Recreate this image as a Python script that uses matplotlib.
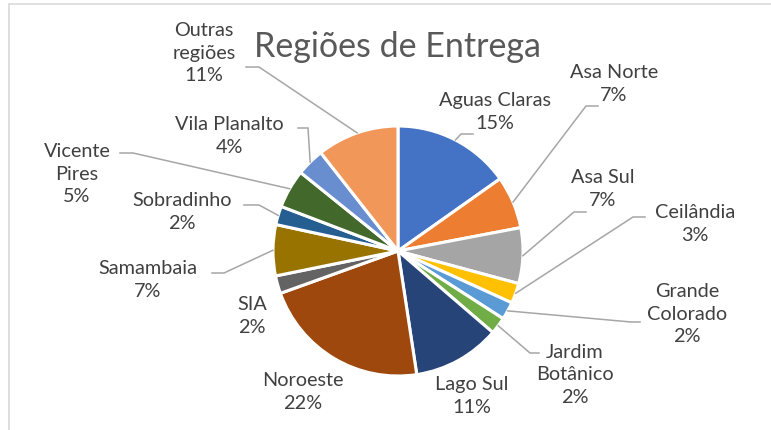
#!/usr/bin/env python3

import numpy as np
import matplotlib
matplotlib.use("Agg")
import matplotlib.pyplot as plt
from matplotlib.patches import Rectangle


# Data (clockwise from 12 o'clock)
regions = ["Aguas Claras", "Asa Norte", "Asa Sul", "Ceilândia", "Grande\nColorado",
           "Jardim\nBotânico", "Lago Sul", "Noroeste", "SIA", "Samambaia",
           "Sobradinho", "Vicente\nPires", "Vila Planalto", "Outras\nregiões"]
shares = [15.2, 6.8, 7.2, 2.6, 2.3, 2.2, 11.3, 21.9, 2.3, 6.6, 2.4, 5.0, 3.6, 10.6]
colors = ["#4472C4", "#ED7D31", "#A5A5A5", "#FFC000", "#5B9BD5", "#70AD47", "#264478",
          "#9E480E", "#636363", "#997300", "#255E91", "#43682B", "#698ED0", "#F1975A"]

# Layout in pixel coords (y measured from top)
W, H = 771, 430
CENTER = (398, 251)
RADIUS = 125
label_pos = [(495, 112), (614, 84), (603, 189), (695, 224), (687, 314),
             (575, 375), (472, 396), (303, 392), (252, 316), (148, 280),
             (182, 212), (77, 174), (229, 136), (204, 53)]
# elbow point and end of the short horizontal tick of each leader line
elbows = [((461, 134), (473, 134)), ((586, 106), (598, 106)), ((574, 212), (586, 212)),
          ((633, 217), (645, 217)), ((631, 322), (640, 322)), ((530, 353), (539, 353)),
          None, None, None, ((224, 273), (212, 273)), ((259, 205), (244, 205)),
          ((133, 153), (120, 153)), ((308, 128), (298, 128)), ((259, 67), (246, 67))]

TEXT = "#404040"
plt.rcParams["font.family"] = ["Lato", "DejaVu Sans"]

fig = plt.figure(figsize=(W / 100, H / 100), dpi=100)
ax = fig.add_axes([0, 0, 1, 1])


def fy(y):
    return H - y


wedges, _ = ax.pie(shares, colors=colors, startangle=90, counterclock=False,
                   center=(CENTER[0], fy(CENTER[1])), radius=RADIUS,
                   wedgeprops=dict(edgecolor="white", linewidth=2.2))

for i, (name, val) in enumerate(zip(regions, shares)):
    x, y = label_pos[i]
    ax.text(x, fy(y), f"{name}\n{val:.0f}%", ha="center", va="center",
            fontsize=14.3, color=TEXT, linespacing=1.38)
    if elbows[i] is None:
        continue
    w = wedges[i]
    mid = np.deg2rad((w.theta1 + w.theta2) / 2)
    sx = w.center[0] + w.r * np.cos(mid)
    sy = w.center[1] + w.r * np.sin(mid)
    (ex, ey), (tx, ty) = elbows[i]
    ax.plot([sx, ex, tx], [sy, fy(ey), fy(ty)], color="#A6A6A6", lw=1.1,
            solid_joinstyle="miter")

ax.text(397, fy(47), "Regiões de Entrega", ha="center", va="center",
        fontsize=24.5, color="#595959")

ax.add_patch(Rectangle((9, -20), W + 20, fy(4) + 20, fill=False,
                       edgecolor="#D9D9D9", lw=1.2))

ax.set_xlim(0, W)
ax.set_ylim(0, H)
ax.set_aspect("equal")
ax.axis("off")

fig.savefig("out.png", dpi=100)
